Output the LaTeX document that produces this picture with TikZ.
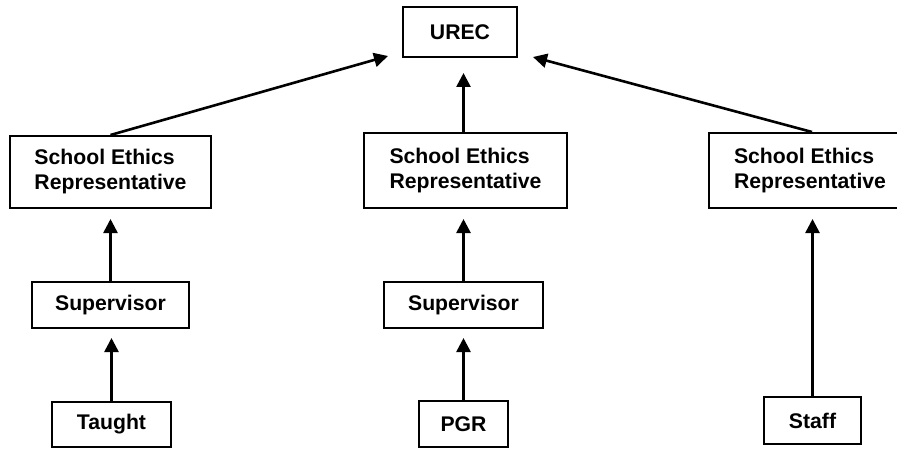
\documentclass[tikz,border=0pt]{standalone}
\usepackage{fontspec}
\setmainfont{Liberation Sans}
\usepackage{tikz}
\usetikzlibrary{arrows.meta, calc}

\tikzset{
  box/.style={draw, line width=1pt, inner sep=0pt, align=left,
              font=\bfseries\fontsize{10.6}{12.5}\selectfont},
  arr/.style={line width=1.3pt, -{Triangle[length=7pt,width=7pt]}}
}

\begin{document}
\begin{tikzpicture}[x=0.5pt, y=-0.5pt]

 %% frame, in pixels of the page
\useasboundingbox (0,0) rectangle (897,449);

 %% column positions, can be modified
\def\colA{110.5}
\def\colB{463.5}
\def\colC{812.5}

\node[box, minimum width=57pt, minimum height=25pt] (urec) at (460, 32) {UREC};

 %% ***Row : School Ethics Representatives***
\node[box, minimum width=100.5pt, minimum height=36pt] (serA) at (\colA, 172) {School Ethics\\Representative};
\node[box, minimum width=101.5pt, minimum height=37.5pt] (serB) at (465.5, 170.5) {School Ethics\\Representative};
\node[box, minimum width=101.5pt, minimum height=37.5pt] (serC) at (810, 170.5) {School Ethics\\Representative};

 %% ***Row : Supervisors***
\node[box, minimum width=78.5pt, minimum height=23pt] (supA) at (\colA, 305) {Supervisor};
\node[box, minimum width=79.5pt, minimum height=23pt] (supB) at (\colB, 305) {Supervisor};

 %% ***Row : applicants***
\node[box, minimum width=59.5pt, minimum height=22.5pt] (taught) at (111.5, 424.5) {Taught};
\node[box, minimum width=44.5pt, minimum height=23pt] (pgr) at (\colB, 424) {PGR};
\node[box, minimum width=48.5pt, minimum height=23.5pt] (staff) at (\colC, 420.5) {Staff};

 %% ***Arrows***
\draw[arr, shorten >=4.5pt] (taught.north) -- (taught.north |- supA.south);
\draw[arr, shorten >=5pt] (supA.north) -- (supA.north |- serA.south);

\draw[arr, shorten >=4.5pt] (pgr.north) -- (pgr.north |- supB.south);
\draw[arr, shorten >=5pt] (supB.north) -- (supB.north |- serB.south);

\draw[arr, shorten >=5pt] (staff.north) -- (staff.north |- serC.south);

% to UREC
\draw[arr, shorten >=7.5pt] ([xshift=-1pt]serB.north) -- ([xshift=-1pt]serB.north |- urec.south);
\draw[arr] (serA.north) -- ($(urec.south west) + (-14, -2)$);
\draw[arr] ([xshift=1pt]serC.north) -- ($(urec.south east) + (15, -1)$);

 \end{tikzpicture}
\end{document}
